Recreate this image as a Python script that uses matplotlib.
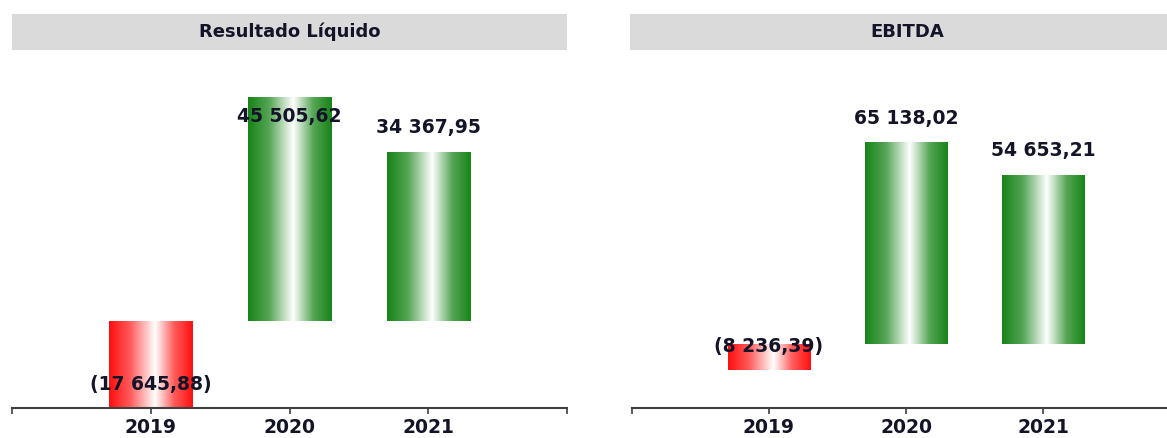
import numpy as np
import matplotlib
matplotlib.use("Agg")
import matplotlib.pyplot as plt
from matplotlib.colors import LinearSegmentedColormap
from matplotlib.patches import Rectangle

# ---- data ----
years = ["2019", "2020", "2021"]
titles = ["Resultado Líquido", "EBITDA"]
resultado_liquido = [-17645.88, 45505.62, 34367.95]
ebitda = [-8236.39, 65138.02, 54653.21]
series = [resultado_liquido, ebitda]

def fmt(v):
    s = f"{abs(v):,.2f}".replace(",", " ").replace(".", ",")
    return f"({s})" if v < 0 else s

W, H = 1167, 438
fig = plt.figure(figsize=(W / 100, H / 100), dpi=100)
fig.patch.set_facecolor("white")

green_cmap = LinearSegmentedColormap.from_list(
    "g", [(0.0, "#178417"), (0.25, "#55a555"), (0.54, "#ffffff"), (0.78, "#55a555"), (1.0, "#178417")])
red_cmap = LinearSegmentedColormap.from_list(
    "r", [(0.0, "#ff0f0f"), (0.25, "#ff5a5a"), (0.55, "#ffffff"), (0.78, "#ff5a5a"), (1.0, "#ff0f0f")])
grad = np.linspace(0, 1, 256).reshape(1, -1)

txt_color = "#141428"
FS = 13.5

panels = [
    dict(x0=12, x1=567, ylim=(-17665, 52995), title_x0=12, title_x1=567),
    dict(x0=632, x1=1180, ylim=(-20650, 91600), title_x0=630, title_x1=1185),
]
ax_top_px, ax_bot_px = 60, 408

for p, vals, title in zip(panels, series, titles):
    left = p["x0"] / W
    width = (p["x1"] - p["x0"]) / W
    bottom = (H - ax_bot_px) / H
    height = (ax_bot_px - ax_top_px) / H
    ax = fig.add_axes([left, bottom, width, height])
    ax.set_xlim(-1, 3)
    ax.set_ylim(*p["ylim"])
    ax.patch.set_alpha(0)

    x = np.arange(len(years))
    bars = ax.bar(x, vals, width=0.6, facecolor="none", edgecolor="none")
    for b, v in zip(bars, vals):
        bx, by = b.get_x(), b.get_y()
        bw, bh = b.get_width(), b.get_height()
        y_lo, y_hi = min(by, by + bh), max(by, by + bh)
        cmap = green_cmap if v >= 0 else red_cmap
        im = ax.imshow(grad, cmap=cmap, aspect="auto",
                       extent=(bx, bx + bw, y_lo, y_hi), zorder=2,
                       interpolation="bilinear")
        im.set_clip_path(b)
    ax.set_xlim(-1, 3)
    ax.set_ylim(*p["ylim"])

    for xi, v in zip(x, vals):
        if v >= 0:
            top_px = ax.transData.transform((xi, v))[1]
            fig_top = H - top_px
            dy = -20 if fig_top - 22 < 100 else 24
        else:
            dy = 23
        ax.annotate(fmt(v), (xi, v), xytext=(0, dy), textcoords="offset pixels",
                    ha="center", va="center", fontsize=FS, fontweight="bold",
                    color=txt_color, zorder=5)

    for s in ["top", "right", "left"]:
        ax.spines[s].set_visible(False)
    ax.spines["bottom"].set_color("#404040")
    ax.spines["bottom"].set_linewidth(1.5)
    ax.spines["bottom"].set_zorder(6)
    ax.set_yticks([])
    ax.set_xticks([-1, 0, 1, 2, 3])
    ax.set_xticklabels([""] + years + [""])
    ax.tick_params(axis="x", length=4, width=1.2, color="#404040", pad=3,
                   labelsize=FS, labelcolor=txt_color)
    for lab in ax.get_xticklabels():
        lab.set_fontweight("bold")

    tx0 = p["title_x0"] / W
    tw = (p["title_x1"] - p["title_x0"]) / W
    fig.patches.append(Rectangle((tx0, (H - 50) / H), tw, 36 / H,
                                 transform=fig.transFigure, facecolor="#dadada",
                                 edgecolor="none", zorder=0))
    cx = (p["x0"] + p["x1"]) / 2 / W if p["x1"] <= W else (p["title_x0"] + p["title_x1"]) / 2 / W
    fig.text(cx, (H - 32) / H, title, ha="center", va="center", fontsize=13,
             fontweight="bold", color=txt_color)

fig.savefig("out.png", dpi=100)
